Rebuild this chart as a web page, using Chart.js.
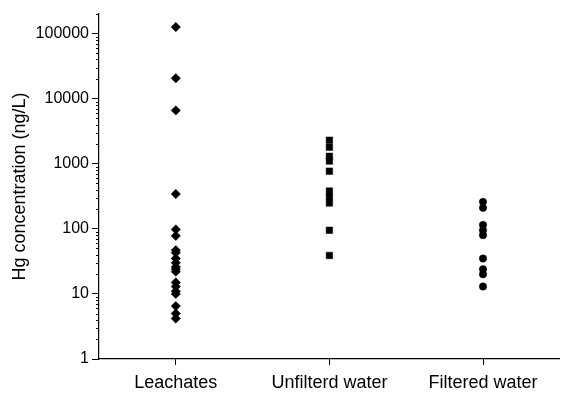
<!DOCTYPE html>
<html>
<head>
<meta charset="utf-8">
<script src="https://cdn.jsdelivr.net/npm/chart.js@4/dist/chart.umd.min.js"></script>
<style>
  html, body { margin: 0; padding: 0; background: #fff; }
  #wrap { width: 565px; height: 393px; }
</style>
</head>
<body>
<div id="wrap"><canvas id="hgChart"></canvas></div>
<script>
// Hg concentrations (ng/L)
const categories = ['Leachates', 'Unfilterd water', 'Filtered water'];
const leachates = [126000, 20600, 6600, 343, 98, 78, 47, 43, 35, 30, 26, 24, 22, 15, 13, 11, 10, 6.5, 5, 4.2];
const unfiltered = [2300, 1800, 1300, 1100, 770, 380, 310, 250, 95, 39];
const filtered = [260, 210, 115, 95, 80, 35, 24, 20, 13];
const yMin = 1;
const yMax = 200000;
const yTitle = 'Hg concentration (ng/L)';

const FONT = 'Arial, "Liberation Sans", sans-serif';

// x position of each group is its category number (1, 2, 3)
function toPoints(values, catIndex) {
    return values.map(v => ({ x: catIndex + 1, y: v }));
}

function isPow10(v) {
    const l = Math.log10(v);
    return Math.abs(l - Math.round(l)) < 1e-9;
}

// short minor tick marks on the log axis (majors are drawn by Chart.js)
const minorTicks = {
    id: 'minorTicks',
    afterDraw(chart) {
        const y = chart.scales.y;
        const c = chart.ctx;
        c.save();
        c.strokeStyle = '#000';
        c.lineWidth = 1;
        y.ticks.forEach(t => {
            if (t.major) return;
            const py = Math.round(y.getPixelForValue(t.value)) + 0.5;
            c.beginPath();
            c.moveTo(y.right - 3, py);
            c.lineTo(y.right, py);
            c.stroke();
        });
        c.restore();
    }
};

new Chart(document.getElementById('hgChart'), {
    type: 'scatter',
    data: {
        datasets: [
            {
                label: categories[0],
                data: toPoints(leachates, 0),
                pointStyle: 'rectRot',
                pointRadius: 4.7,
                backgroundColor: '#000',
                borderColor: '#000',
                borderWidth: 0.5
            },
            {
                label: categories[1],
                data: toPoints(unfiltered, 1),
                pointStyle: 'rect',
                pointRadius: 4.6,
                backgroundColor: '#000',
                borderColor: '#000',
                borderWidth: 0.5
            },
            {
                label: categories[2],
                data: toPoints(filtered, 2),
                pointStyle: 'circle',
                pointRadius: 3.7,
                backgroundColor: '#000',
                borderColor: '#000',
                borderWidth: 0.5
            }
        ]
    },
    options: {
        responsive: true,
        maintainAspectRatio: false,
        animation: false,
        layout: { padding: { left: 9, top: 14, right: 0, bottom: 0 } },
        plugins: {
            legend: { display: false },
            tooltip: { enabled: false }
        },
        scales: {
            x: {
                type: 'linear',
                min: 0.5,
                max: 3.5,
                afterBuildTicks: s => {
                    s.ticks = categories.map((c, i) => ({ value: i + 1 }));
                },
                afterFit: s => {
                    s.height = 34;
                    s.paddingLeft = 0;
                    s.paddingRight = 0;
                },
                ticks: {
                    autoSkip: false,
                    maxRotation: 0,
                    padding: 7,
                    color: '#000',
                    font: { family: FONT, size: 18 },
                    callback: v => categories[Math.round(v) - 1]
                },
                grid: {
                    display: true,
                    drawOnChartArea: false,
                    drawTicks: true,
                    tickLength: 6,
                    tickColor: '#000',
                    tickWidth: 1
                },
                border: { display: true, color: '#000', width: 1.2 }
            },
            y: {
                type: 'logarithmic',
                min: yMin,
                max: yMax,
                afterBuildTicks: s => {
                    const ticks = [];
                    for (let e = 0; Math.pow(10, e) <= yMax; e++) {
                        for (let m = 1; m <= 9; m++) {
                            const v = m * Math.pow(10, e);
                            if (v > yMax) break;
                            ticks.push({ value: v, major: m === 1 });
                        }
                    }
                    s.ticks = ticks;
                },
                afterFit: s => { s.width = 90; },
                title: {
                    display: true,
                    text: yTitle,
                    color: '#000',
                    font: { family: FONT, size: 18 },
                    padding: 0
                },
                ticks: {
                    autoSkip: false,
                    padding: 3,
                    color: '#000',
                    font: { family: FONT, size: 16 },
                    callback: v => isPow10(v) ? String(Math.round(v)) : ''
                },
                grid: {
                    display: true,
                    drawOnChartArea: false,
                    drawTicks: true,
                    tickLength: 7,
                    tickWidth: 1,
                    tickColor: ctx => (ctx.tick && ctx.tick.major) ? '#000' : 'rgba(0,0,0,0)'
                },
                border: { display: true, color: '#000', width: 1.2 }
            }
        }
    },
    plugins: [minorTicks]
});
</script>
</body>
</html>
